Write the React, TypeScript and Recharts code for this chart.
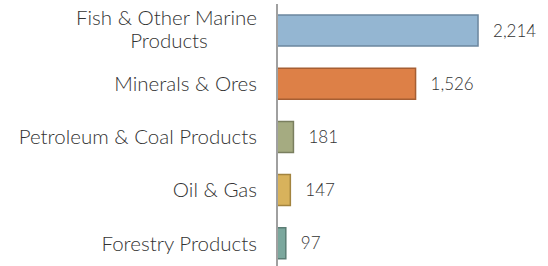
import React from 'react';
import { BarChart, Bar, XAxis, YAxis, Cell, LabelList } from 'recharts';

const categories = ['Fish & Other Marine Products', 'Minerals & Ores', 'Petroleum & Coal Products', 'Oil & Gas', 'Forestry Products'];
const values = [2214, 1526, 181, 147, 97];
const fills = ['#94B6D2', '#DD8047', '#A5AB81', '#D8B25C', '#7BA79D'];
const strokes = ['#6B869E', '#A65E33', '#7A7F5F', '#A3843F', '#5A7D74'];

const data = categories.map((name, i) => ({ name, value: values[i] }));

const FONT = 'Lato, "Open Sans", sans-serif';
const TEXT = '#333333';

const CategoryTick = (props: any) => {
    const { x, y, payload } = props;
    const label: string = payload.value;
    if (label === 'Fish & Other Marine Products') {
        return (
            <g>
                <text x={x} y={y - 13} dy="0.35em" textAnchor="end" fontFamily={FONT} fontSize={20.5} fontWeight={300} fill={TEXT}>Fish & Other Marine</text>
                <text x={x - 88} y={y + 10} dy="0.35em" textAnchor="middle" fontFamily={FONT} fontSize={20.5} fontWeight={300} fill={TEXT}>Products</text>
            </g>
        );
    }
    return (
        <text x={x} y={y} dy="0.35em" textAnchor="end" fontFamily={FONT} fontSize={20.5} fontWeight={300} fill={TEXT}>{label}</text>
    );
};

export default function App() {
    return (
        <div style={{ position: 'absolute', left: 0, top: 0 }}>
            <BarChart
                width={548}
                height={272}
                data={data}
                layout="vertical"
                margin={{ top: 4, right: 44, left: 0, bottom: 2 }}
            >
                <XAxis type="number" domain={[0, 2500]} hide />
                <YAxis
                    type="category"
                    dataKey="name"
                    width={277}
                    axisLine={{ stroke: '#A0A0A0', strokeWidth: 2 }}
                    tickLine={false}
                    tickSize={0}
                    tickMargin={20}
                    interval={0}
                    tick={<CategoryTick />}
                />
                <Bar dataKey="value" barSize={31} strokeWidth={1.5} isAnimationActive={false}>
                    {data.map((d, i) => (
                        <Cell key={d.name} fill={fills[i]} stroke={strokes[i]} />
                    ))}
                    <LabelList
                        dataKey="value"
                        position="right"
                        offset={15}
                        formatter={(v: any) => Number(v).toLocaleString('en-US')}
                        style={{ fontFamily: FONT, fontSize: 17, fontWeight: 300, fill: TEXT }}
                    />
                </Bar>
            </BarChart>
        </div>
    );
}
